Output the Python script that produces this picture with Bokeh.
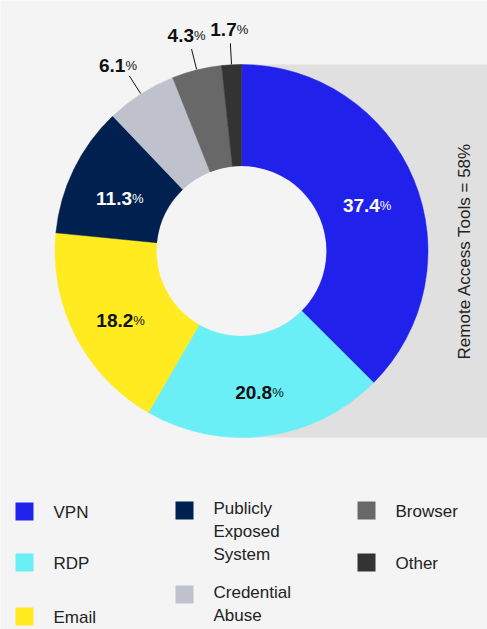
import math
from bokeh.plotting import figure
from bokeh.models import Range1d, ColumnDataSource
from bokeh.core.properties import value
from bokeh.embed import file_html
from bokeh.resources import INLINE

# ---- data ----
categories = ["VPN", "RDP", "Email", "Publicly Exposed System", "Credential Abuse", "Browser", "Other"]
shares = [37.4, 20.8, 18.2, 11.3, 6.1, 4.3, 1.7]
share_labels = ["37.4", "20.8", "18.2", "11.3", "6.1", "4.3", "1.7"]
legend_labels = ["VPN", "RDP", "Email", "Publicly\nExposed\nSystem", "Credential\nAbuse", "Browser", "Other"]
bracket_label = "Remote Access Tools = 58%"

# ---- styles ----
colors = ["#2121ec", "#6aeff6", "#ffeb1f", "#00214f", "#bfc1cc", "#686868", "#333333"]
label_colors = ["#ffffff", "#111111", "#111111", "#ffffff", "#111111", "#111111", "#111111"]
FONT = "Liberation Sans"
BG = "#f4f4f4"

# ---- geometry (reference pixel space, y measured downward then flipped) ----
W, H = 487, 629
CX, CY_REF = 241, 250.5
R_OUT, R_IN = 186.5, 85
CY = H - CY_REF

p = figure(width=W, height=H, output_backend="svg", toolbar_location=None,
           x_range=Range1d(0, W), y_range=Range1d(0, H), min_border=0,
           background_fill_color=BG, border_fill_color=BG, outline_line_color=None)
p.axis.visible = False
p.grid.visible = False

# grey "remote access" band behind the right half
p.quad(left=[CX], right=[W + 10], bottom=[CY - R_OUT], top=[CY + R_OUT],
       fill_color="#e0e0e0", line_color=None)

total = sum(shares)
cum = [0.0]
for s in shares:
    cum.append(cum[-1] + s)
starts = [math.pi / 2 - 2 * math.pi * c / total for c in cum[:-1]]
ends = [math.pi / 2 - 2 * math.pi * c / total for c in cum[1:]]
mids = [math.pi / 2 - 2 * math.pi * (a + b) / 2 / total for a, b in zip(cum[:-1], cum[1:])]

src = ColumnDataSource(dict(x=[CX] * len(shares), y=[CY] * len(shares), start=starts, end=ends,
                            color=colors))
p.annular_wedge(x="x", y="y", inner_radius=R_IN, outer_radius=R_OUT, start_angle="start",
                end_angle="end", direction="clock", fill_color="color", line_color="color",
                line_width=0.5, source=src)
# donut hole in page background colour
p.circle(x=[CX], y=[CY], radius=R_IN - 0.3, fill_color=BG, line_color=None)

# percentage labels
NUM_FS, PCT_FS = 19, 13
def num_width(s):
    return sum(5.3 if ch == "." else 10.6 for ch in s)
PCT_W = 11.6

lx, ly, lt, lc, dx = [], [], [], [], []
seg_x0, seg_y0, seg_x1, seg_y1 = [], [], [], []
for i, s in enumerate(shares):
    th = mids[i]
    if s >= 8:
        r = 136
    else:
        r = 229
        seg_x0.append(CX + 187 * math.cos(th)); seg_y0.append(CY + 187 * math.sin(th))
        seg_x1.append(CX + 208 * math.cos(th)); seg_y1.append(CY + 208 * math.sin(th))
    lx.append(CX + r * math.cos(th)); ly.append(CY + r * math.sin(th))
    lt.append(share_labels[i]); lc.append(label_colors[i])
    dx.append((num_width(share_labels[i]) - PCT_W) / 2)

lsrc = ColumnDataSource(dict(x=lx, y=ly, t=lt, c=lc, dx=dx, pct=["%"] * len(lt)))
p.text(x="x", y="y", text="t", text_color="c", x_offset="dx", y_offset=7,
       text_align="right", text_baseline="alphabetic", text_font=value(FONT),
       text_font_size=f"{NUM_FS}px", text_font_style="bold", source=lsrc)
p.text(x="x", y="y", text="pct", text_color="c", x_offset="dx", y_offset=7,
       text_align="left", text_baseline="alphabetic", text_font=value(FONT),
       text_font_size=f"{PCT_FS}px", source=lsrc)
p.segment(x0=seg_x0, y0=seg_y0, x1=seg_x1, y1=seg_y1, line_color="#111111", line_width=1)

# rotated bracket label
p.text(x=[CX + R_OUT + 36], y=[CY], text=[bracket_label], angle=math.pi / 2,
       text_align="center", text_baseline="middle", text_font=value(FONT),
       text_font_size="17px", text_color="#222222")

# legend (manual layout)
col_x = [15, 175, 357]
text_x = [53, 213, 395]
leg_col = [0, 0, 0, 1, 1, 2, 2]
leg_top = [502, 553, 607, 501, 585, 501, 553]
SQ = 18
sq_x = [col_x[c] + SQ / 2 for c in leg_col]
sq_y = [H - (t + SQ / 2) for t in leg_top]
p.rect(x=sq_x, y=sq_y, width=SQ, height=SQ, fill_color=colors, line_color=None)

single = [i for i, l in enumerate(legend_labels) if "\n" not in l]
multi = [i for i, l in enumerate(legend_labels) if "\n" in l]
p.text(x=[text_x[leg_col[i]] for i in single], y=[H - (leg_top[i] + 10) for i in single],
       text=[legend_labels[i] for i in single], text_align="left", text_baseline="middle",
       text_font=value(FONT), text_font_size="17px", text_color="#222222")
p.text(x=[text_x[leg_col[i]] for i in multi], y=[H - (leg_top[i] - 3) for i in multi],
       text=[legend_labels[i] for i in multi], text_align="left", text_baseline="top",
       text_line_height=1.22, text_font=value(FONT), text_font_size="17px", text_color="#222222")

open("out.html", "w").write(file_html(p, INLINE))
